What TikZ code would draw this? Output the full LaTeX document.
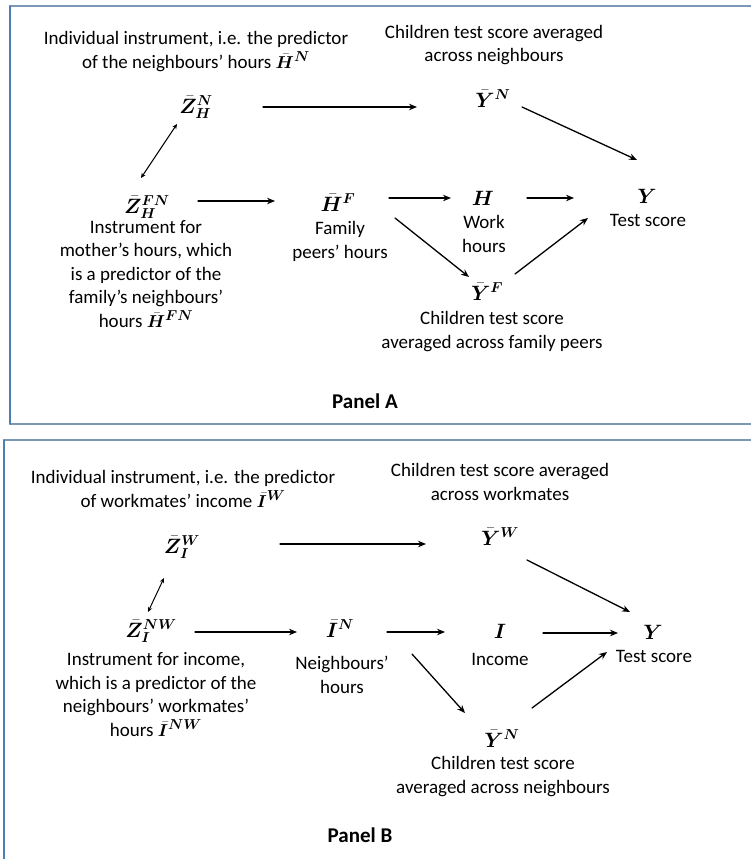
\documentclass[tikz,border=0pt]{standalone}
\usepackage{fontspec}
\setmainfont{Carlito}
\usepackage{bm}
\usetikzlibrary{arrows.meta}
\definecolor{frameline}{HTML}{7D98B6}
\definecolor{frameside}{HTML}{4F7DB5}
\begin{document}
\begin{tikzpicture}[x=1pt,y=-1pt,line join=round,line cap=round,
	>={Stealth[length=8pt,width=6.5pt]},
	font=\fontsize{19}{23.5}\selectfont,
	var/.style={inner sep=0pt,text height=12pt,text depth=6pt,font=\fontsize{21}{24}\selectfont},
	txt/.style={align=center,inner sep=0pt,anchor=base},
	arr/.style={->,line width=1.3pt},
	dbl/.style={<->,line width=1pt,>={Stealth[length=5pt,width=4.5pt]}}]
	\useasboundingbox (0,0) rectangle (751,859);
	\draw[frameline,line width=1.5pt] (751,6)--(10,6)--(10,424)--(751,424);
	\draw[frameside,line width=1.5pt] (10,6)--(10,424);
	\draw[frameline,line width=1.5pt] (751,440)--(4,440)--(4,859);
	\draw[frameside,line width=1.5pt] (4,440)--(4,859);
	% Panel A
	\node[var] (zhn) at (196,110) {$\bm{\bar Z_H^N}$};
	\node[var] (yn) at (493,104) {$\bm{\bar Y^N}$};
	\node[var] (zhfn) at (147,210) {$\bm{\bar Z_H^{FN}}$};
	\node[var] (hf) at (338,208) {$\bm{\bar H^F}$};
	\node[var] (h) at (483,202) {$\bm{H}$};
	\node[var] (y) at (647,200) {$\bm{Y}$};
	\node[var] (yf) at (487,297) {$\bm{\bar Y^F}$};
	\node[txt] (zhnlab) at (196,68) {Individual instrument, i.e. the predictor\\of the neighbours’ hours $\bm{\bar H^N}$};
	\node[txt] (ynlab) at (494,62) {Children test score averaged\\across neighbours};
	\node[txt] (zhfnlab) at (146,327) {Instrument for\\mother’s hours, which\\is a predictor of the\\family’s neighbours’\\hours $\bm{\bar H^{FN}}$};
	\node[txt] (hflab) at (340,258) {Family\\peers’ hours};
	\node[txt] (hlab) at (484,252) {Work\\hours};
	\node[txt] (ylab) at (648,226) {Test score};
	\node[txt] (yflab) at (492,348) {Children test score\\averaged across family peers};
	\node[txt,font=\fontsize{21}{24}\selectfont\bfseries] (panela) at (365,408) {Panel A};
	\draw[arr] ([shift={(67,-3)}]zhn.center) -- ([shift={(-76,3)}]yn.center);
	\draw[arr] ([shift={(29,3)}]yn.center) -- ([shift={(-10,-40)}]y.center);
	\draw[dbl] ([shift={(-19,14)}]zhn.center) -- ([shift={(-6,-32)}]zhfn.center);
	\draw[arr] ([shift={(51,-9)}]zhfn.center) -- ([shift={(-63,-7)}]hf.center);
	\draw[arr] ([shift={(51,-10)}]hf.center) -- ([shift={(-32,-4)}]h.center);
	\draw[arr] ([shift={(44,-4)}]h.center) -- ([shift={(-73,-2)}]y.center);
	\draw[arr] ([shift={(57,10)}]hf.center) -- ([shift={(-18,-20)}]yf.center);
	\draw[arr] ([shift={(28,-23)}]yf.center) -- ([shift={(-59,18)}]y.center);
	% Panel B
	\node[var] (ziw) at (182,550) {$\bm{\bar Z_I^W}$};
	\node[var] (yw) at (500,542) {$\bm{\bar Y^W}$};
	\node[var] (zinw) at (151,634) {$\bm{\bar Z_I^{NW}}$};
	\node[var] (in) at (340,634) {$\bm{\bar I^N}$};
	\node[var] (i) at (500,635) {$\bm{I}$};
	\node[var] (yb) at (653,636) {$\bm{Y}$};
	\node[var] (ynb) at (502,744) {$\bm{\bar Y^N}$};
	\node[txt] (ziwlab) at (183,507) {Individual instrument, i.e. the predictor\\of workmates’ income $\bm{\bar I^W}$};
	\node[txt] (ywlab) at (500,500) {Children test score averaged\\across workmates};
	\node[txt] (zinwlab) at (156,736) {Instrument for income,\\which is a predictor of the\\neighbours’ workmates’\\hours $\bm{\bar I^{NW}}$};
	\node[txt] (inlab) at (342,693) {Neighbours’\\hours};
	\node[txt] (ilab) at (500,665) {Income};
	\node[txt] (yblab) at (654,662) {Test score};
	\node[txt] (ynblab) at (503,793) {Children test score\\averaged across neighbours};
	\node[txt,font=\fontsize{21}{24}\selectfont\bfseries] (panelb) at (360,842) {Panel B};
	\draw[arr] ([shift={(98,-6)}]ziw.center) -- ([shift={(-74,2)}]yw.center);
	\draw[arr] ([shift={(27,18)}]yw.center) -- ([shift={(-23,-24)}]yb.center);
	\draw[dbl] ([shift={(-18,28)}]ziw.center) -- ([shift={(-3,-22)}]zinw.center);
	\draw[arr] ([shift={(44,-2)}]zinw.center) -- ([shift={(-43,-2)}]in.center);
	\draw[arr] ([shift={(47,-2)}]in.center) -- ([shift={(-55,-3)}]i.center);
	\draw[arr] ([shift={(43,-2)}]i.center) -- ([shift={(-35,-3)}]yb.center);
	\draw[arr] ([shift={(72,20)}]in.center) -- ([shift={(-37,-31)}]ynb.center);
	\draw[arr] ([shift={(30,-36)}]ynb.center) -- ([shift={(-46,16)}]yb.center);
\end{tikzpicture}
\end{document}
